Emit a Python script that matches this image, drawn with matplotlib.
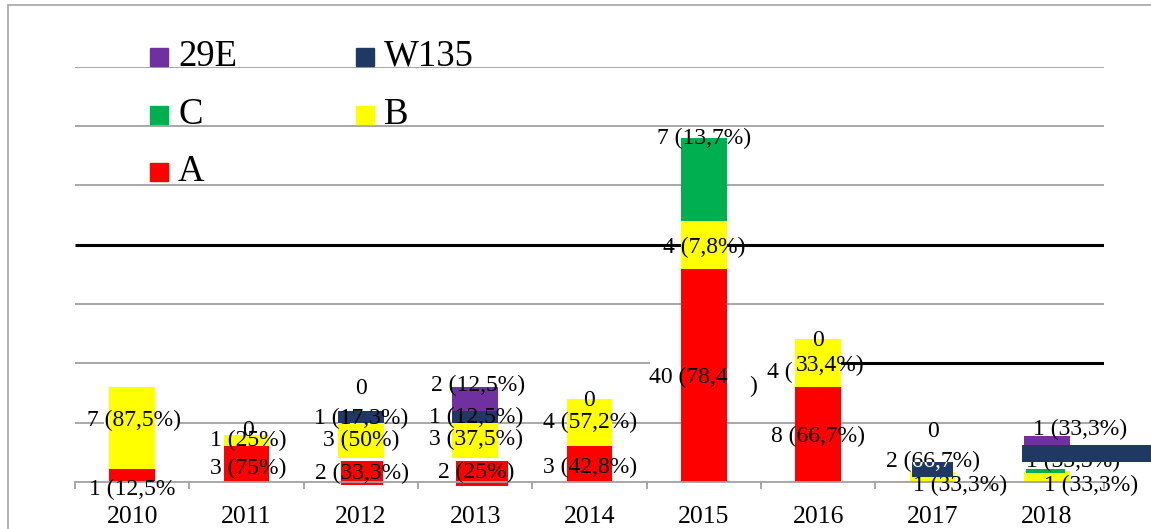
import numpy as np
import matplotlib.pyplot as plt
from matplotlib.patches import Rectangle
from matplotlib.transforms import TransformedBbox

plt.rcParams['font.family'] = ['Liberation Serif', 'DejaVu Serif']

years = ['2010', '2011', '2012', '2013', '2014', '2015', '2016', '2017', '2018']

# segment heights as drawn in the picture (one gridline step = 5)
a_vals = [1.07, 3, 2.05, 2.05, 3.03, 17.96, 8.04, 0, 0]
b_vals = [6.93, 1, 2.95, 2.9, 3.97, 4.07, 4.02, 0.85, 0.9]
c_vals = [0, 0, 0, 0, 0, 7.0, 0, 0, 0.28]
w_vals = [0, 0, 1, 1.05, 0, 0, 0, 1.27, 1.4]
e_vals = [0, 0, 0, 2.03, 0, 0, 0, 0, 0.9]

names = ['A', 'B', 'C', 'W135', '29E']
colors = {'A': '#FF0000', 'B': '#FFFF00', 'C': '#00B050',
          'W135': '#1F3864', '29E': '#7030A0'}

# data labels: (year index, text, x offset, y, ha)
labels = [
    (0, '1 (12,5%', 0.0, -0.67, 'center'),
    (0, '7 (87,5%)', 0.016, 5.22, 'center'),
    (1, '3 (75%)', 0.013, 1.18, 'center'),
    (1, '1 (25%)', 0.013, 3.54, 'center'),
    (1, '0', 0.013, 4.30, 'center'),
    (2, '2 (33,3%)', 0.006, 0.76, 'center'),
    (2, '3 (50%)', 0.006, 3.54, 'center'),
    (2, '1 (17,3%)', 0.0, 5.35, 'center'),
    (2, '0', 0.0, 7.92, 'center'),
    (3, '2 (25%)', 0.011, 0.84, 'center'),
    (3, '3 (37,5%)', 0.007, 3.62, 'center'),
    (3, '1 (12,5%)', 0.007, 5.48, 'center'),
    (3, '2 (12,5%)', 0.025, 8.13, 'center'),
    (4, '3 (42,8%)', 0.004, 1.26, 'center'),
    (4, '4 (57,2%)', 0.004, 5.06, 'center'),
    (4, '0', -0.004, 6.91, 'center'),
    (5, '40 (78,4', 0.212, 8.85, 'right'),
    (5, ')', 0.435, 8.09, 'center'),
    (5, '4 (7,8%)', 0.0, 19.76, 'center'),
    (5, '7 (13,7%)', 0.0, 28.99, 'center'),
    (6, '8 (66,7%)', 0.0, 3.88, 'center'),
    (6, '4 (', -0.221, 9.27, 'right'),
    (6, '33,4%)', -0.195, 9.86, 'left'),
    (6, '0', 0.0, 11.92, 'center'),
    (7, '1 (33,3%)', 0.241, -0.25, 'center'),
    (7, '2 (66,7%)', 0.004, 1.73, 'center'),
    (7, '0', 0.004, 4.26, 'center'),
    (8, '1 (33,3%)', 0.387, -0.25, 'center'),
    (8, '1 (33,3%)', 0.229, 1.69, 'center'),
    (8, '1 (33,3%)', 0.29, 4.47, 'center'),
]

fig = plt.figure(figsize=(11.51, 5.29), dpi=100)
ax = fig.add_axes([75 / 1151, 47 / 529, 1029 / 1151, 415.3 / 529])

x = np.arange(len(years))
bar_width = 0.4

# odd placements seen in the picture: (series, index) -> (dy, dx, width)
tweaks = {
    ('A', 2): (-0.28, 0.01, 0.36),
    ('A', 3): (-0.30, 0.06, 0.455),
    ('W135', 7): (-0.43, 0.0, 0.367),
    ('C', 8): (-0.11, -0.01, 0.34),
    ('W135', 8): (0.51, 0.386, 1.2),
    ('29E', 8): (0.42, 0.0, 0.4),
}

series = {'A': a_vals, 'B': b_vals, 'C': c_vals, 'W135': w_vals, '29E': e_vals}
bottom = np.zeros(len(years))
bars = {}
for name in names:
    vals = np.array(series[name], dtype=float)
    bots = bottom.copy()
    xs = x.astype(float).copy()
    ws = np.full(len(years), bar_width)
    for i in range(len(years)):
        if (name, i) in tweaks:
            dy, dx, w = tweaks[(name, i)]
            bots[i] += dy
            xs[i] += dx
            ws[i] = w
    bars[name] = ax.bar(xs, vals, ws, bottom=bots, color=colors[name],
                        zorder=2, clip_on=False, linewidth=0)
    bottom += vals

# navy bars in 2017/2018 sit on top of their labels
bars['W135'].patches[7].set_zorder(4)
bars['W135'].patches[8].set_zorder(4)

# gridlines
grid_c = '#A0A0A0'
ax.hlines(5, -0.5, -0.246, color=grid_c, lw=1.3, zorder=0.5)
ax.hlines(5, 0.418, 8.5, color=grid_c, lw=1.3, zorder=0.5)
ax.hlines(10, -0.5, 4.529, color=grid_c, lw=1.3, zorder=0.5)
ax.hlines([15, 25, 30, 35], -0.5, 8.5, color=grid_c, lw=1.3, zorder=0.5)
ax.hlines(20, -0.5, 8.5, color='black', lw=2.2, zorder=0.6)
ax.hlines(10, 6.182, 8.5, color='black', lw=2.2, zorder=0.6)

for idx, txt, dx, y, ha in labels:
    ax.text(idx + dx, y, txt, ha=ha, va='center', fontsize=17,
            color='black', zorder=3, clip_on=False)

# white part of the 2017 label that shows over the navy bar
navy17 = bars['W135'].patches[7]
t = ax.text(7.004, 1.73, '2 (66,7%)', ha='center', va='center', fontsize=17,
            color='white', zorder=5)
t.set_clip_box(TransformedBbox(navy17.get_bbox(), ax.transData))
t.set_clip_on(True)

ax.set_xlim(-0.5, 8.5)
ax.set_ylim(0, 35)
for s in ['top', 'right', 'left']:
    ax.spines[s].set_visible(False)
ax.spines['bottom'].set_color(grid_c)
ax.spines['bottom'].set_linewidth(1.3)
ax.set_yticks([])
ax.set_xticks(np.arange(-0.5, 9, 1))
ax.set_xticklabels([])
ax.tick_params(axis='x', which='major', direction='out', length=5,
               width=1.3, color=grid_c)
ax.set_xticks(x, minor=True)
ax.set_xticklabels(years, minor=True, fontsize=18.5)
ax.tick_params(axis='x', which='minor', length=0, pad=17)
ax.patch.set_alpha(0)


def px(xp, yp):
    return xp / 1151, 1 - yp / 529


# legend drawn by hand: two columns
legend_items = [('29E', 150, 56.5), ('W135', 356, 56.5),
                ('C', 150, 114.5), ('B', 356, 114.5),
                ('A', 150, 171.5)]
for name, lx, ly in legend_items:
    fx, fy = px(lx, ly + 9)
    fig.patches.append(Rectangle((fx, fy), 18 / 1151, 18 / 529,
                                 transform=fig.transFigure,
                                 color=colors[name], zorder=5))
    tx, ty = px(lx + 28, ly)
    fig.text(tx, ty, name, ha='left', va='center', fontsize=26.5)

# chart border
bx, by = px(8, 5)
fig.patches.append(Rectangle((bx, -0.1), 1.2, by + 0.1,
                             transform=fig.transFigure, fill=False,
                             edgecolor='#A6A6A6', lw=1.2, zorder=0))

plt.savefig('out.png', dpi=100)
